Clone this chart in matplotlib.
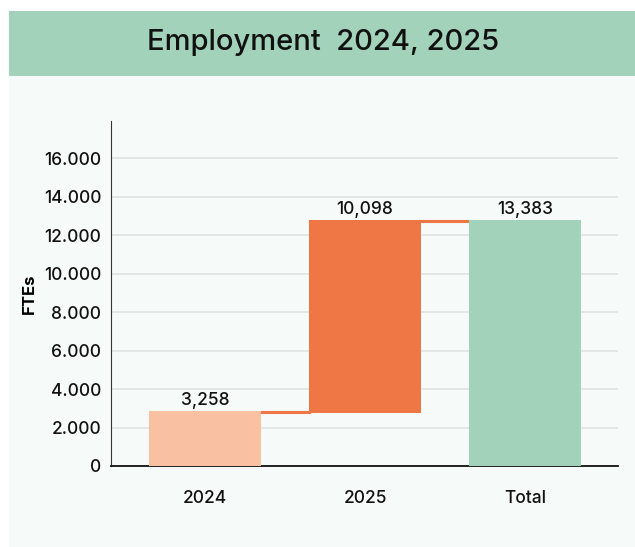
import matplotlib
matplotlib.use('Agg')
import matplotlib.pyplot as plt
from matplotlib.patches import Rectangle

plt.rcParams['font.family'] = ['Inter', 'DejaVu Sans']

categories = ['2024', '2025', 'Total']
bar_bottoms = [0, 2780, 0]
bar_tops = [2850, 12800, 12800]
value_labels = ['3,258', '10,098', '13,383']
tick_values = [0, 2000, 4000, 6000, 8000, 10000, 12000, 14000, 16000]
tick_labels = ['0', '2.000', '4.000', '6.000', '8.000', '10.000', '12.000', '14.000', '16.000']
colors = ['#f9c0a1', '#ee7745', '#a2d2b9']

W, H = 635, 547
fig = plt.figure(figsize=(W / 100, H / 100), dpi=100)
fig.patch.set_facecolor('white')

# background panel + header band
fig.patches.append(Rectangle((9 / W, 0), 1 - 9 / W, (H - 76) / H, transform=fig.transFigure,
                             facecolor='#f6faf9', edgecolor='none', zorder=-2))
fig.patches.append(Rectangle((9 / W, (H - 76) / H), 1 - 9 / W, 65 / H, transform=fig.transFigure,
                             facecolor='#a2d2b9', edgecolor='none', zorder=-2))
fig.text(323 / W, (H - 42) / H, 'Employment  2024, 2025', ha='center', va='center',
         fontsize=21, color='#111111', fontweight='medium')

ax = fig.add_axes([111 / W, (H - 466) / H, (618 - 111) / W, (466 - 121) / H])
ax.set_facecolor('none')

x = list(range(len(categories)))
heights = [t - b for t, b in zip(bar_tops, bar_bottoms)]
ax.bar(x, heights, bottom=bar_bottoms, width=0.7, color=colors, zorder=3)

# connector lines
ax.plot([x[0] + 0.35, x[1] - 0.35], [bar_tops[0] - 60, bar_tops[0] - 60], color='#ee7745', lw=2.2, zorder=2)
ax.plot([x[1] + 0.35, x[2] - 0.35], [bar_tops[1] - 60, bar_tops[1] - 60], color='#ee7745', lw=2.2, zorder=2)

for xi, top, lab in zip(x, bar_tops, value_labels):
    ax.text(xi, top + 120, lab, ha='center', va='bottom', fontsize=12.5,
            color='#111111', fontweight='medium')

ax.set_xlim(-0.5875, 2.58)
ax.set_ylim(0, 17950)
ax.set_yticks(tick_values)
ax.set_yticklabels(tick_labels, fontweight='medium')
ax.set_xticks(x)
ax.set_xticklabels(categories, fontweight='medium')
ax.tick_params(axis='both', length=0, labelsize=12.5, colors='#111111')
ax.tick_params(axis='y', pad=7)
ax.tick_params(axis='x', pad=17)
ax.grid(axis='y', color='#dfe3e2', lw=1.2, zorder=0)
ax.set_axisbelow(True)
for s in ['top', 'right']:
    ax.spines[s].set_visible(False)
ax.spines['left'].set_color('#333333')
ax.spines['bottom'].set_color('#111111')
ax.spines['bottom'].set_linewidth(1.3)
ax.set_ylabel('FTEs', fontsize=12, fontweight='bold', labelpad=5)

fig.savefig('out.png', dpi=100)
